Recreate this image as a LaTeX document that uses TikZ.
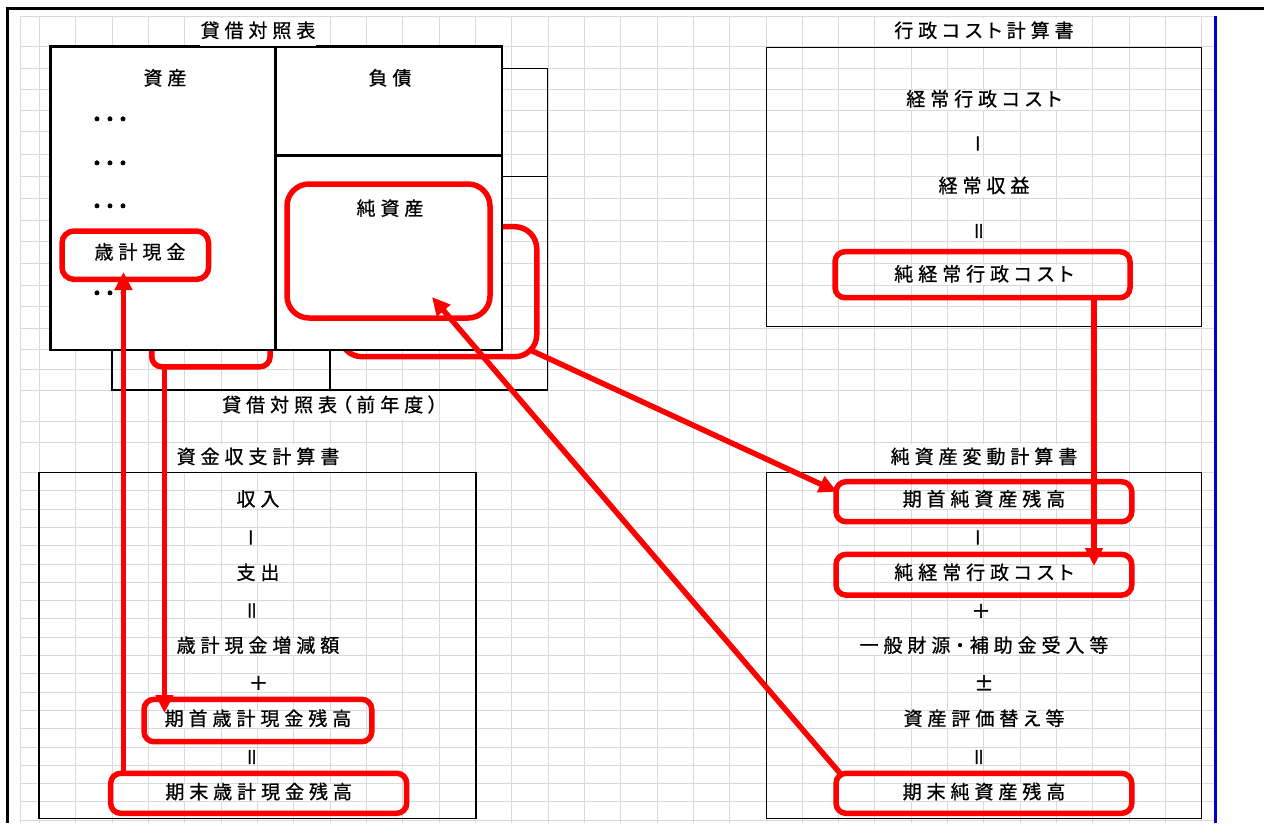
\documentclass[tikz,border=0pt]{standalone}
\usepackage{fontspec}
\newfontfamily\jp[LetterSpace=26,RawFeature=+palt,FakeBold=0.8]{Noto Sans CJK JP}
\newfontfamily\jpplain[FakeBold=2]{Noto Sans CJK JP}
\usetikzlibrary{arrows.meta,calc}
\definecolor{gridgray}{RGB}{217,217,217}
\definecolor{markred}{RGB}{255,0,0}
\definecolor{pageblue}{RGB}{0,0,204}

\begin{document}
\begin{tikzpicture}[x=1pt,y=-1pt,
  gridline/.style={gridgray,line width=1pt},
  thinbox/.style={black,line width=1.3pt},
  celltext/.style={fill=white,inner xsep=1pt,inner ysep=0pt,text height=14pt,text depth=2pt,
    minimum height=17pt,font=\jp\fontsize{19}{21}\selectfont},
  celltall/.style={celltext,minimum height=20pt},
  titletext/.style={celltext,minimum height=28pt},
  opsign/.style={inner sep=0pt,font=\jpplain\fontsize{19}{21}\selectfont},
  dots/.style={inner sep=0pt,font=\jpplain\fontsize{26}{28}\selectfont},
  redbox/.style={draw=markred,line width=5.5pt,rounded corners=10pt,inner sep=0pt,outer sep=0pt},
  flow/.style={draw=markred,line width=5.5pt,-{Triangle[length=18pt,width=17pt]}}
]
\useasboundingbox (0,0) rectangle (1264,823);

% sheet grid
\draw[gridline] (20,16) -- (20,823);
\foreach \i in {0,...,32} {\draw[gridline] ({39.4+36.33*\i},16) -- ++(0,807);}
\foreach \gy in {16,46.7,68.3,89.3,110,131.7,154,176.7,198,220,241.7,263,285,306.7,328,349,369.5,390,421.7,442.7}
  {\draw[gridline] (20,\gy) -- (1215,\gy);}
\foreach \i in {0,...,19} {\draw[gridline] (20,{472.5+18.3*\i}) -- (1215,{472.5+18.3*\i});}

\draw[line width=3pt] (5.5,8.3) -- (1264,8.3);
\draw[line width=3pt] (7.3,6.8) -- (7.3,823);
\draw[pageblue,line width=2.5pt] (1215.5,16) -- (1215.5,823);

% previous year balance sheet
\draw[thinbox] (112,68.3) rectangle (547.7,390);
\draw[thinbox] (330,68.3) -- (330,390) (330,176.7) -- (547.7,176.7);
\node[redbox,rounded corners=22pt,minimum width=196.7pt,minimum height=130pt] (prevNet) at (438.4,291.7) {};
\node[redbox,minimum width=118.3pt,minimum height=66.7pt] (prevCash) at (210.9,333.4) {};

% balance sheet
\draw[fill=white,line width=2.6pt] (50.5,46.7) rectangle (502,350);
\draw[line width=2.6pt] (275.5,46.7) -- (275.5,350) (275.5,155.3) -- (502,155.3);

\draw[thinbox] (766.7,47.3) rectangle (1201.7,326.7);
\draw[thinbox] (39,472.7) rectangle (476,818.3);
\draw[thinbox] (766.7,472.7) rectangle (1201.7,818.3);

\node[titletext] (bsTitle) at (258,31.5) {貸借対照表};
\node[titletext] (pcTitle) at (984,31.5) {行政コスト計算書};
\node[titletext] (prevTitle) at (330,405.8) {貸借対照表（前年度）};
\node[titletext] (cfTitle) at (258,457.6) {資金収支計算書};
\node[titletext] (nwTitle) at (984,457.6) {純資産変動計算書};

\node[celltall] (assets) at (165,79) {資産};
\node[celltall] (debts) at (390,79) {負債};
\node[dots] (dotsA) at (110,122.7) {･･･};
\node[dots] (dotsB) at (110,166.7) {･･･};
\node[dots] (dotsC) at (110,209.7) {･･･};
\node[dots] (dotsD) at (110,296.7) {･･･};
\node[celltall] (cashTxt) at (140,253) {歳計現金};
\node[celltall] (netTxt) at (390,209.3) {純資産};

\node[celltall] (ordCost) at (984,100) {経常行政コスト};
\node[opsign,rotate=90] (pcMinus) at (981,143.5) {－};
\node[celltall] (ordRev) at (984,186.7) {経常収益};
\node[opsign,rotate=90] (pcEq) at (981,231) {＝};
\node[celltall] (costTxt) at (984,275) {純経常行政コスト};

\node[celltext] (income) at (258,500) {収入};
\node[opsign,rotate=90] (cfMinus) at (254,537.5) {－};
\node[celltext] (spend) at (258,573.5) {支出};
\node[opsign,rotate=90] (cfEq) at (254,610.5) {＝};
\node[celltext] (cashDiff) at (258,646.3) {歳計現金増減額};
\node[opsign] (cfPlus) at (258.5,683) {＋};
\node[celltext] (begCashTxt) at (258,719.5) {期首歳計現金残高};
\node[opsign,rotate=90] (cfEqB) at (254,757) {＝};
\node[celltext] (endCashTxt) at (258.7,792.8) {期末歳計現金残高};

\node[celltext] (begNetTxt) at (984,500) {期首純資産残高};
\node[opsign,rotate=90] (nwMinus) at (981,537.5) {－};
\node[celltext] (netCostTxt) at (984,573.5) {純経常行政コスト};
\node[opsign] (nwPlus) at (981,611) {＋};
\node[celltext] (revenue) at (984,646.3) {一般財源・補助金受入等};
\node[opsign] (nwPm) at (984,683) {±};
\node[celltext] (revalue) at (984,719.5) {資産評価替え等};
\node[opsign,rotate=90] (nwEq) at (981,757) {＝};
\node[celltext] (endNetTxt) at (984,792.8) {期末純資産残高};

% red marks
\node[redbox,rounded corners=12pt,minimum width=146.6pt,minimum height=48.3pt] (cash) at (135.3,255.2) {};
\node[redbox,rounded corners=22pt,minimum width=203pt,minimum height=134pt] (net) at (388.5,251) {};
\node[redbox,minimum width=295pt,minimum height=46pt] (cost) at (982.5,274.7) {};
\node[redbox,minimum width=227.7pt,minimum height=42.4pt] (begCash) at (257.9,720.5) {};
\node[redbox,minimum width=296pt,minimum height=40pt] (endCash) at (258.7,793.3) {};
\node[redbox,minimum width=295.7pt,minimum height=40pt] (begNet) at (983.9,501.7) {};
\node[redbox,minimum width=295.7pt,minimum height=40.7pt] (netCost) at (983.9,574.7) {};
\node[redbox,minimum width=295.7pt,minimum height=40pt] (endNet) at (983.9,793.3) {};

\coordinate (cashTip) at (123.5,272);
\coordinate (begCashTip) at (164.5,713);
\coordinate (netTip) at (432,297);
\coordinate (costTip) at (1094,566);
\draw[flow] (endCash.north -| cashTip) -- (cashTip);
\draw[flow] (prevCash.south -| begCashTip) -- (begCashTip);
\draw[flow] ($(endNet.north west)+(4,0)$) -- (netTip);
\draw[flow] ($(prevNet.south east)+(-5,-6)$) -- ($(begNet.west)+(1,-10)$);
\draw[flow] (cost.south -| costTip) -- (costTip);

\end{tikzpicture}
\end{document}
